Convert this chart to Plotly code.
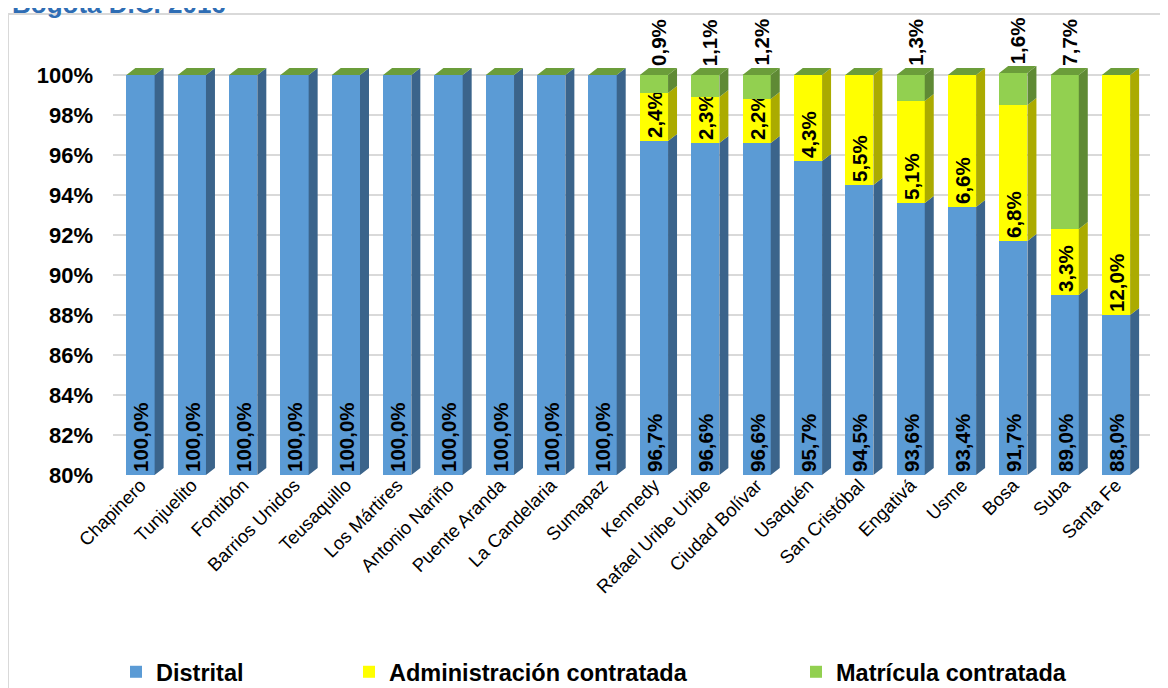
import plotly.graph_objects as go

# ---------------- data ----------------
categorias = ["Chapinero", "Tunjuelito", "Fontibón", "Barrios Unidos", "Teusaquillo",
              "Los Mártires", "Antonio Nariño", "Puente Aranda", "La Candelaria", "Sumapaz",
              "Kennedy", "Rafael Uribe Uribe", "Ciudad Bolívar", "Usaquén", "San Cristóbal",
              "Engativá", "Usme", "Bosa", "Suba", "Santa Fe"]
distrital = [100.0, 100.0, 100.0, 100.0, 100.0, 100.0, 100.0, 100.0, 100.0, 100.0,
             96.7, 96.6, 96.6, 95.7, 94.5, 93.6, 93.4, 91.7, 89.0, 88.0]
administracion = [0, 0, 0, 0, 0, 0, 0, 0, 0, 0,
                  2.4, 2.3, 2.2, 4.3, 5.5, 5.1, 6.6, 6.8, 3.3, 12.0]
matricula = [0, 0, 0, 0, 0, 0, 0, 0, 0, 0,
             0.9, 1.1, 1.2, 0, 0, 1.3, 0, 1.6, 7.7, 0]
y_ticks = [80, 82, 84, 86, 88, 90, 92, 94, 96, 98, 100]
y_tick_labels = ["80%", "82%", "84%", "86%", "88%", "90%", "92%", "94%", "96%", "98%", "100%"]
titulo = "Bogotá D.C. 2016"
series_names = ["Distrital", "Administración contratada", "Matrícula contratada"]

# ---------------- styling ----------------
OFF = 8                      # page offset (body margin)
W, H = 1168 - 2 * OFF, 688 - OFF
def L(v):                    # reference pixel -> local pixel
    return v - OFF
PLOT_TOP, PLOT_BOTTOM = 63, 475      # reference pixels
PLOT_LEFT, PLOT_RIGHT = 113, 1150
ML = L(PLOT_LEFT)
MR = W - L(PLOT_RIGHT)
MT = L(PLOT_TOP)
MB = H - L(PLOT_BOTTOM)
Y_MIN, Y_MAX = 80, 100.6
X_MIN, X_MAX = -0.536, 19.662
BAR_W = 0.55
DX = 0.175   # depth offset (x units)
DY = 0.35    # depth offset (y units)
FONT = "Liberation Sans, Arial, sans-serif"

front = ["#5B9BD5", "#FFFF00", "#92D050"]
side = ["#3B648B", "#ABAB00", "#5F8A35"]
top_col = "#6B9D3A"

n = len(categorias)
xs = list(range(n))

def fmt(v):
    return f"{v:.1f}".replace(".", ",") + "%"

def px2x(ref_px):
    return (ref_px - PLOT_LEFT) / (PLOT_RIGHT - PLOT_LEFT)
def py2y(ref_py):
    return (PLOT_BOTTOM - ref_py) / (PLOT_BOTTOM - PLOT_TOP)

base_blue = [Y_MIN] * n
base_yel = distrital[:]
base_grn = [d + a for d, a in zip(distrital, administracion)]
tops = [d + a + m for d, a, m in zip(distrital, administracion, matricula)]

bases = [base_blue, base_yel, base_grn]
ends = [distrital, base_grn, tops]
values = [distrital, administracion, matricula]

fig = go.Figure()

legends = ["legend", "legend2", "legend3"]
for k in range(3):
    heights = [e - b for b, e in zip(bases[k], ends[k])]
    if k < 2:
        txt = [fmt(v) if v > 0 else "" for v in values[k]]
    else:
        txt = None
    fig.add_trace(go.Bar(
        x=xs, y=heights, base=bases[k], width=BAR_W,
        name=series_names[k], legend=legends[k],
        marker=dict(color=front[k], line=dict(width=0)),
        text=txt, textposition="inside" if txt else "none",
        insidetextanchor="start", textangle=-90, constraintext="none",
        textfont=dict(family=FONT, size=20.5, color="black", weight="bold"),
        hoverinfo="skip",
    ))

# side faces
for k in range(3):
    px_, py_ = [], []
    for i in xs:
        b, t = bases[k][i], ends[k][i]
        if t - b <= 0:
            continue
        xr = i + BAR_W / 2
        px_ += [xr, xr + DX, xr + DX, xr, xr, None]
        py_ += [b, b + DY, t + DY, t, b, None]
    fig.add_trace(go.Scatter(
        x=px_, y=py_, mode="lines", fill="toself", fillcolor=side[k],
        line=dict(width=0, color=side[k]), hoverinfo="skip", showlegend=False,
    ))

# top faces
px_, py_ = [], []
for i in xs:
    T = tops[i]
    xl, xr = i - BAR_W / 2, i + BAR_W / 2
    px_ += [xl, xl + DX, xr + DX, xr, xl, None]
    py_ += [T, T + DY, T + DY, T, T, None]
fig.add_trace(go.Scatter(
    x=px_, y=py_, mode="lines", fill="toself", fillcolor=top_col,
    line=dict(width=0, color=top_col), hoverinfo="skip", showlegend=False,
))

annotations = []
# matrícula labels above the bars
for i in xs:
    if matricula[i] > 0:
        annotations.append(dict(
            x=i + DX / 2, y=tops[i] + DY, xref="x", yref="y",
            text=fmt(matricula[i]), showarrow=False, textangle=-90,
            xanchor="center", yanchor="bottom",
            font=dict(family=FONT, size=20.5, color="black", weight="bold"),
        ))
# title (mostly cut off at top, as in the source)
annotations.append(dict(
    x=px2x(10), y=py2y(21), xref="paper", yref="paper", text=titulo,
    showarrow=False, xanchor="left", yanchor="bottom",
    font=dict(family=FONT, size=26, color="#2E6DB4", weight="bold"),
))

leg_common = dict(orientation="h", yanchor="middle", xanchor="left",
                  bgcolor="rgba(0,0,0,0)",
                  font=dict(family=FONT, size=23.5, color="black", weight="bold"))
text_starts = [153, 386, 833]
LEG_Y = 672

fig.update_layout(
    width=W, height=H,
    margin=dict(l=ML, r=MR, t=MT, b=MB, pad=0, autoexpand=False),
    paper_bgcolor="white", plot_bgcolor="white",
    barmode="overlay", bargap=0,
    showlegend=True,
    legend=dict(x=px2x(text_starts[0] - 37), y=py2y(LEG_Y), **leg_common),
    legend2=dict(x=px2x(text_starts[1] - 37), y=py2y(LEG_Y), **leg_common),
    legend3=dict(x=px2x(text_starts[2] - 37), y=py2y(LEG_Y), **leg_common),
    xaxis=dict(range=[X_MIN, X_MAX], tickvals=xs, ticktext=categorias,
               tickangle=-45, tickfont=dict(family=FONT, size=18.5, color="black"),
               showgrid=False, zeroline=False, showline=False, ticks="", automargin=False,
               ticklabelstandoff=-5),
    yaxis=dict(range=[Y_MIN, Y_MAX], tickvals=y_ticks, ticktext=y_tick_labels,
               tickfont=dict(family=FONT, size=22, color="black", weight="bold"),
               showgrid=True, gridcolor="#D9D9D9", gridwidth=2, zeroline=False,
               showline=False, ticks="", ticklabelstandoff=19, automargin=False),
    annotations=annotations,
    shapes=[dict(type="rect", xref="paper", yref="paper",
                 x0=px2x(8), x1=px2x(1185), y0=py2y(705), y1=py2y(14),
                 line=dict(color="#D9D9D9", width=2), fillcolor="rgba(0,0,0,0)", layer="below")],
    hovermode=False,
)

fig.write_html("out.html")
